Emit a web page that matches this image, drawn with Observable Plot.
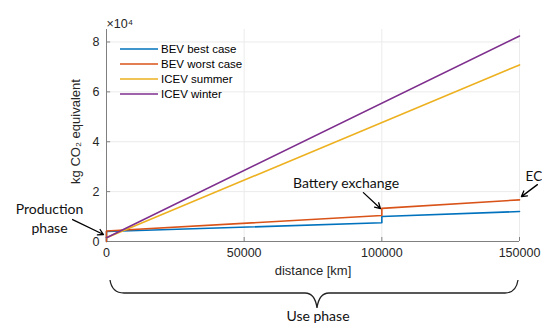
<!DOCTYPE html>
<html><head><meta charset="utf-8">
<script src="https://cdn.jsdelivr.net/npm/d3@7"></script>
<script src="https://cdn.jsdelivr.net/npm/@observablehq/plot@0.6"></script>
<style>body{margin:0;background:#fff}svg{display:block}</style>
</head><body><div id="chart"></div>
<script>
const seriesNames = ["BEV best case", "BEV worst case", "ICEV summer", "ICEV winter"];
const colors = ["#0072BD", "#D95319", "#EDB120", "#7E2F8E"];
const bevDistance = [0, 0, 100000, 100000, 150000];
const bevBest = [0, 4000, 7500, 10000, 12000];
const bevWorst = [0, 4200, 10400, 13300, 16700];
const icevDistance = [0, 150000];
const icevSummer = [1500, 70800];
const icevWinter = [1500, 82400];
const xTicks = [0, 50000, 100000, 150000];
const yTicks = [0, 20000, 40000, 60000, 80000];
const centeredNotes = [
  {x: -20700, y: 9800, text: "Production\nphase", x1: -12300, y1: 8800, x2: -1100, y2: 2800},
  {x: 87000, y: 24000, text: "Battery exchange", x1: 93300, y1: 19600, x2: 99500, y2: 13200}
];
const startNotes = [
  {x: 152200, y: 26000, text: "EC", x1: 156500, y1: 22800, x2: 150700, y2: 18000}
];

const rows = [];
bevDistance.forEach((d, i) => rows.push({series: seriesNames[0], x: d, y: bevBest[i]}));
bevDistance.forEach((d, i) => rows.push({series: seriesNames[1], x: d, y: bevWorst[i]}));
icevDistance.forEach((d, i) => rows.push({series: seriesNames[2], x: d, y: icevSummer[i]}));
icevDistance.forEach((d, i) => rows.push({series: seriesNames[3], x: d, y: icevWinter[i]}));

const font = "'Liberation Sans', Arial, sans-serif";
const annFont = "Lato, 'Open Sans', sans-serif";

const chart = Plot.plot({
  width: 542, height: 325,
  marginLeft: 106, marginRight: 23, marginTop: 29, marginBottom: 84,
  style: {fontFamily: font, fontSize: "12.5px", color: "#262626", background: "#fff", overflow: "visible"},
  x: {domain: [0, 150000], ticks: xTicks},
  y: {domain: [0, 85000], ticks: yTicks},
  color: {domain: seriesNames, range: colors},
  marks: [
    Plot.gridX(xTicks, {stroke: "#ebebeb", strokeOpacity: 1}),
    Plot.gridY(yTicks, {stroke: "#ebebeb", strokeOpacity: 1}),
    Plot.axisX({ticks: xTicks, tickSize: 0, tickPadding: 7, tickFormat: d => String(d), fontSize: 12.5, fill: "#262626", label: null}),
    Plot.axisY({ticks: yTicks, tickSize: 0, tickPadding: 7, tickFormat: d => String(d / 10000), fontSize: 12.5, fill: "#262626", label: null}),
    Plot.text(["distance [km]"], {frameAnchor: "bottom", dy: 33, fontSize: 13, fill: "#262626"}),
    Plot.text(["kg CO₂ equivalent"], {frameAnchor: "left", dx: -31, dy: -4, rotate: -90, textAnchor: "middle", fontSize: 13, fill: "#262626"}),
    Plot.ruleY(yTicks, {x1: 0, x2: 1500, stroke: "#808080"}),
    Plot.ruleX(xTicks, {y1: 0, y2: 1600, stroke: "#808080"}),
    Plot.ruleX([0], {stroke: "#808080"}),
    Plot.ruleY([0], {stroke: "#808080"}),
    Plot.line(rows, {x: "x", y: "y", z: "series", stroke: "series", strokeWidth: 1.6}),
    Plot.text(["×10⁴"], {frameAnchor: "top-left", dx: 0, dy: -10, fontSize: 12.5, fill: "#262626", textAnchor: "start"}),
    Plot.arrow(centeredNotes.concat(startNotes), {x1: "x1", y1: "y1", x2: "x2", y2: "y2", stroke: "#000", strokeWidth: 1.3, headLength: 7, clip: false}),
    Plot.text(centeredNotes, {x: "x", y: "y", text: "text", textAnchor: "middle", fontFamily: annFont, fontSize: 14, fill: "#111", lineHeight: 1.36, clip: false}),
    Plot.text(startNotes, {x: "x", y: "y", text: "text", textAnchor: "start", fontFamily: annFont, fontSize: 13.5, fill: "#111", clip: false})
  ]
});

const svg = d3.select(chart);
// legend
const lg = svg.append("g").attr("text-anchor", "start");
seriesNames.forEach((n, i) => {
  const y = 49 + 15 * i;
  lg.append("line").attr("x1", 120).attr("x2", 158).attr("y1", y).attr("y2", y).attr("stroke", colors[i]).attr("stroke-width", 1.6);
  lg.append("text").attr("x", 161).attr("y", y).attr("dy", "0.35em").attr("font-size", 11.5).attr("fill", "#000").attr("font-family", font).text(n);
});
// brace
svg.append("path")
  .attr("d", "M110,280 Q112,293 124,293 L305,293 Q315,293 317,308 Q319,293 329,293 L505,293 Q516,293 518,280")
  .attr("fill", "none").attr("stroke", "#222").attr("stroke-width", 1.3);
svg.append("text").attr("x", 318).attr("y", 316).attr("dy", "0.35em").attr("text-anchor", "middle")
  .attr("font-family", annFont).attr("font-size", 14).attr("fill", "#111").text("Use phase");

document.getElementById("chart").appendChild(chart);
</script></body></html>
